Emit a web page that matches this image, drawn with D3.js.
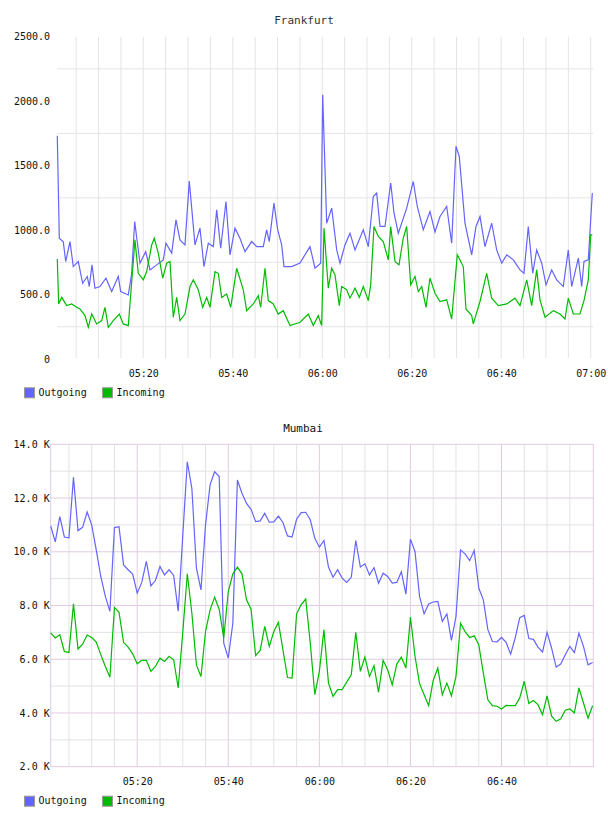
<!DOCTYPE html>
<html><head><meta charset="utf-8">
<script src="https://cdn.jsdelivr.net/npm/d3@7"></script>
<style>html,body{margin:0;padding:0;background:#fff;}</style>
</head><body>
<script>
// ---------- DATA ----------
const seriesNames = ["Outgoing", "Incoming"];
const seriesColors = ["#6464ff", "#00bb00"];

// Frankfurt (minutes after 05:00, value)
const fraOutMin = [0.78,1.23,2.12,2.66,3.62,4.35,5.47,6.45,7.48,7.93,8.53,9.2,10.32,11.66,12.94,14.41,14.95,16.65,17.41,18.08,19.26,20.54,21.5,23.0,24.47,25.07,26.35,27.31,28.2,29.32,30.28,31.56,32.67,33.57,34.53,35.65,36.41,37.3,38.48,39.38,40.5,41.61,42.73,44.23,45.35,46.82,47.58,48.16,49.21,50.04,50.93,51.45,53.17,55.03,57.26,58.38,59.65,60.1,60.99,62.11,63.23,63.97,65.08,66.2,67.32,69.17,70.29,71.41,72.17,72.91,74.02,75.3,76.04,77.0,78.87,80.35,81.24,82.58,84.08,85.2,86.32,87.81,88.93,89.89,90.63,91.9,93.4,94.36,95.26,96.37,97.87,98.99,100.1,101.23,102.7,104.2,105.09,106.05,107.04,107.93,109.05,110.01,111.28,112.4,113.87,114.99,115.75,117.23,117.99,118.5,119.46,120.36];
const fraOutVal = [1731,937,910,756,911,717,756,587,640,562,730,549,562,627,523,640,523,497,665,1066,743,833,691,730,769,898,821,1079,924,885,1380,885,1015,717,898,872,1157,859,1222,808,1015,937,833,911,872,872,1002,911,1209,1002,885,717,717,745,872,704,743,2050,1053,1170,846,743,885,976,846,1002,872,1260,1287,1028,1028,1365,1131,976,1170,1377,1183,1002,1144,985,1105,1183,898,1650,1570,1053,808,1028,1105,872,1053,846,743,808,769,691,665,1028,665,846,743,575,691,614,562,846,562,782,562,756,769,1287];
const fraInMin = [0.78,1.09,1.76,2.88,4.0,5.11,5.85,6.97,7.71,8.47,9.58,10.7,11.44,12.18,13.29,14.64,15.53,16.65,17.18,18.14,18.88,20.0,20.76,21.88,22.46,23.35,24.34,25.23,25.97,26.71,27.47,28.2,29.32,30.44,31.18,32.29,33.28,34.17,34.91,36.03,36.76,37.52,38.64,39.54,40.88,42.35,43.11,44.59,45.7,46.24,47.2,47.94,49.06,50.17,51.29,52.79,55.03,56.88,58.0,59.11,59.87,60.39,61.35,62.11,62.85,63.81,64.34,65.46,66.2,67.32,68.28,69.17,70.29,70.83,71.56,72.53,73.64,74.76,75.3,76.26,77.15,78.11,78.87,79.77,80.73,81.47,82.23,83.19,84.08,85.2,86.32,87.81,88.93,90.18,91.52,92.12,93.4,93.76,95.26,96.75,97.87,99.35,101.23,103.08,104.2,105.7,106.81,107.93,108.67,109.79,111.64,113.13,114.25,114.99,116.11,117.6,118.5,119.46,120.0,120.36];
const fraInVal = [776,427,478,414,427,401,388,337,246,349,272,298,401,246,298,349,272,259,497,924,665,614,678,885,937,821,627,743,756,324,478,298,349,562,614,537,401,478,401,678,665,478,504,401,704,537,375,427,491,401,704,453,427,349,375,259,285,349,259,337,259,1015,549,704,653,414,562,537,472,549,478,562,453,575,1028,950,911,769,1028,756,730,937,1028,575,640,523,562,401,627,510,446,459,310,808,717,388,337,272,446,665,472,414,427,472,414,614,414,691,459,324,375,349,310,472,349,349,453,614,963,963];
const fraYTicks = [0, 500, 1000, 1500, 2000, 2500];
const fraYGrid = [250, 750, 1250, 1750, 2250];
const fraXTicks = ["05:20", "05:40", "06:00", "06:20", "06:40", "07:00"];

// Mumbai (one sample per minute from 05:01), values in K
const mumStart = "05:01";
const mumOut = [10.96,10.37,11.31,10.55,10.52,12.77,10.79,10.91,11.48,11.0,10.07,9.08,8.34,7.78,10.9,10.93,9.51,9.33,9.17,8.46,8.86,9.64,8.73,8.93,9.45,9.14,9.33,9.12,7.79,10.6,13.35,12.36,9.39,8.58,11.0,12.49,12.98,12.8,6.6,6.04,7.35,12.67,12.18,11.8,11.58,11.12,11.15,11.43,11.1,11.11,11.33,11.09,10.59,10.55,11.21,11.46,11.47,11.19,10.5,10.17,10.42,9.43,9.05,9.33,9.02,8.86,9.05,10.42,9.43,9.55,9.14,9.41,8.83,9.2,9.08,8.83,8.86,9.26,8.42,10.47,10.01,8.34,7.69,8.06,8.13,8.15,7.41,7.69,6.7,7.59,10.07,9.92,9.67,10.05,8.65,8.21,7.1,6.66,6.65,6.81,6.63,6.19,6.79,7.55,7.63,6.77,6.74,6.45,6.27,7.0,6.41,5.71,5.82,6.17,6.48,6.25,6.97,6.48,5.79,5.88];
const mumIn = [6.98,6.79,6.91,6.29,6.25,8.06,6.38,6.56,6.9,6.81,6.64,6.17,5.73,5.33,7.93,7.75,6.63,6.45,6.2,5.83,5.96,5.96,5.55,5.73,6.04,5.92,6.11,5.98,4.93,7.0,9.18,7.71,5.79,5.36,7.03,7.84,8.31,7.86,6.79,8.52,9.18,9.43,9.18,8.21,7.86,6.14,6.33,7.22,6.48,7.03,7.37,6.35,5.32,5.3,7.69,8.03,8.24,6.6,4.68,5.55,7.1,5.11,4.62,4.87,4.87,5.15,5.42,7.0,5.55,6.08,5.36,5.76,4.77,5.96,5.61,5.05,5.82,6.08,5.67,7.57,6.11,5.09,4.68,4.27,5.21,5.67,4.68,5.11,4.64,5.36,7.34,7.03,6.81,6.87,6.54,5.49,4.49,4.27,4.25,4.15,4.28,4.27,4.27,4.56,5.18,4.35,4.46,4.31,3.94,4.64,3.88,3.69,3.78,4.1,4.15,4.0,4.93,4.37,3.81,4.27];
const mumYTicks = [2, 4, 6, 8, 10, 12, 14];
const mumYGrid = [3, 5, 7, 9, 11, 13];
const mumXTicks = ["05:20", "05:40", "06:00", "06:20", "06:40"];

// ---------- DRAW ----------
const FONT = "'DejaVu Sans Mono', monospace";
const W = 608, H = 816;
const svg = d3.select("body").append("svg").attr("width", W).attr("height", H)
  .style("display", "block").style("background", "#fff");

const parseT = d3.timeParse("%H:%M");
const fmtT = d3.timeFormat("%H:%M");
const addMin = (t, m) => new Date(t.getTime() + m * 60000);

function legend(y) {
  const g = svg.append("g").attr("transform", `translate(24,${y})`);
  const offs = [0, 78];
  seriesNames.forEach((n, i) => {
    g.append("rect").attr("x", offs[i] + 0.5).attr("y", -4.5).attr("width", 10).attr("height", 10)
      .attr("fill", seriesColors[i]).attr("stroke", "#999").attr("stroke-width", 1);
    g.append("text").attr("x", offs[i] + 14.5).attr("y", 0).attr("dy", "0.35em")
      .attr("font-family", FONT).attr("font-size", 10).attr("fill", "#111").text(n);
  });
}

// ----- Frankfurt -----
{
  const L = 57, R = 593, T = 36.7, B = 359;
  const t0 = parseT("05:00"), t1 = parseT("07:00");
  const x = d3.scaleTime().domain([t0, t1]).range([53.8, 590.7]);
  const y = d3.scaleLinear().domain([0, 2500]).range([B, T]);

  svg.append("text").attr("x", 304).attr("y", 20).attr("dy", "0.35em").attr("text-anchor", "middle")
    .attr("font-family", FONT).attr("font-size", 11).attr("fill", "#333").text("Frankfurt");

  const grid = svg.append("g");
  d3.timeMinute.every(5).range(t0, addMin(t1, 1)).filter(d => x(d) >= L).forEach(d => {
    grid.append("line").attr("x1", x(d)).attr("x2", x(d)).attr("y1", T).attr("y2", B - 1)
      .attr("stroke", "#e4e4e4").attr("stroke-width", 1);
  });
  fraYGrid.forEach(v => {
    grid.append("line").attr("x1", L).attr("x2", R).attr("y1", y(v)).attr("y2", y(v))
      .attr("stroke", "#e4e4e4").attr("stroke-width", 1);
  });

  const ya = svg.append("g").attr("transform", `translate(${L},0)`)
    .call(d3.axisLeft(y).tickValues(fraYTicks).tickSize(0).tickPadding(7)
      .tickFormat(v => v === 0 ? "0" : d3.format(".1f")(v)));
  ya.select(".domain").remove();
  ya.selectAll("text").attr("font-family", FONT).attr("font-size", 10).attr("fill", "#111");

  const xa = svg.append("g").attr("transform", `translate(0,${B})`)
    .call(d3.axisBottom(x).tickValues(fraXTicks.map(parseT)).tickSize(0).tickPadding(11).tickFormat(fmtT));
  xa.select(".domain").remove();
  xa.selectAll("text").attr("font-family", FONT).attr("font-size", 10).attr("fill", "#111");

  const outPts = fraOutMin.map((m, i) => [addMin(t0, m), fraOutVal[i]]);
  const inPts = fraInMin.map((m, i) => [addMin(t0, m), fraInVal[i]]);
  const line = d3.line().x(d => x(d[0])).y(d => y(d[1]));
  svg.append("path").datum(outPts).attr("d", line).attr("fill", "none")
    .attr("stroke", seriesColors[0]).attr("stroke-width", 1.2);
  svg.append("path").datum(inPts).attr("d", line).attr("fill", "none")
    .attr("stroke", seriesColors[1]).attr("stroke-width", 1.2);

  legend(392.3);
}

// ----- Mumbai -----
{
  const L = 50.7, R = 593.3, T = 444.3, B = 766.7;
  const t0 = parseT(mumStart);
  const tEnd = addMin(t0, mumOut.length - 1);
  const x = d3.scaleTime().domain([t0, tEnd]).range([50.7, 592.6]);
  const y = d3.scaleLinear().domain([2, 14]).range([B, T]);

  svg.append("text").attr("x", 303).attr("y", 428.5).attr("dy", "0.35em").attr("text-anchor", "middle")
    .attr("font-family", FONT).attr("font-size", 11).attr("fill", "#111").text("Mumbai");

  const grid = svg.append("g");
  const major = "#e2cbe2", minor = "#e2e2e2";
  d3.timeMinute.every(5).range(t0, tEnd).filter(d => x(d) > L + 1).forEach(d => {
    const isMaj = d.getMinutes() % 20 === 0;
    grid.append("line").attr("x1", x(d)).attr("x2", x(d)).attr("y1", T).attr("y2", B)
      .attr("stroke", isMaj ? major : minor).attr("stroke-width", 1);
  });
  mumYGrid.forEach(v => {
    grid.append("line").attr("x1", L).attr("x2", R).attr("y1", y(v)).attr("y2", y(v))
      .attr("stroke", minor).attr("stroke-width", 1);
  });
  mumYTicks.filter(v => v > 2 && v < 14).forEach(v => {
    grid.append("line").attr("x1", L).attr("x2", R).attr("y1", y(v)).attr("y2", y(v))
      .attr("stroke", major).attr("stroke-width", 1);
  });
  grid.append("rect").attr("x", L).attr("y", T).attr("width", R - L).attr("height", B - T)
    .attr("fill", "none").attr("stroke", major).attr("stroke-width", 1);

  const ya = svg.append("g").attr("transform", `translate(${L},0)`)
    .call(d3.axisLeft(y).tickValues(mumYTicks).tickSize(0).tickPadding(1)
      .tickFormat(v => d3.format(".1f")(v) + " K"));
  ya.select(".domain").remove();
  ya.selectAll("text").attr("font-family", FONT).attr("font-size", 10).attr("fill", "#111");

  const xa = svg.append("g").attr("transform", `translate(0,${B})`)
    .call(d3.axisBottom(x).tickValues(mumXTicks.map(parseT)).tickSize(0).tickPadding(11).tickFormat(fmtT));
  xa.select(".domain").remove();
  xa.selectAll("text").attr("font-family", FONT).attr("font-size", 10).attr("fill", "#111");

  const line = d3.line().x((d, i) => x(addMin(t0, i))).y(d => y(d));
  svg.append("path").datum(mumOut).attr("d", line).attr("fill", "none")
    .attr("stroke", seriesColors[0]).attr("stroke-width", 1.2);
  svg.append("path").datum(mumIn).attr("d", line).attr("fill", "none")
    .attr("stroke", seriesColors[1]).attr("stroke-width", 1.2);

  legend(800.7);
}
</script>
</body></html>
